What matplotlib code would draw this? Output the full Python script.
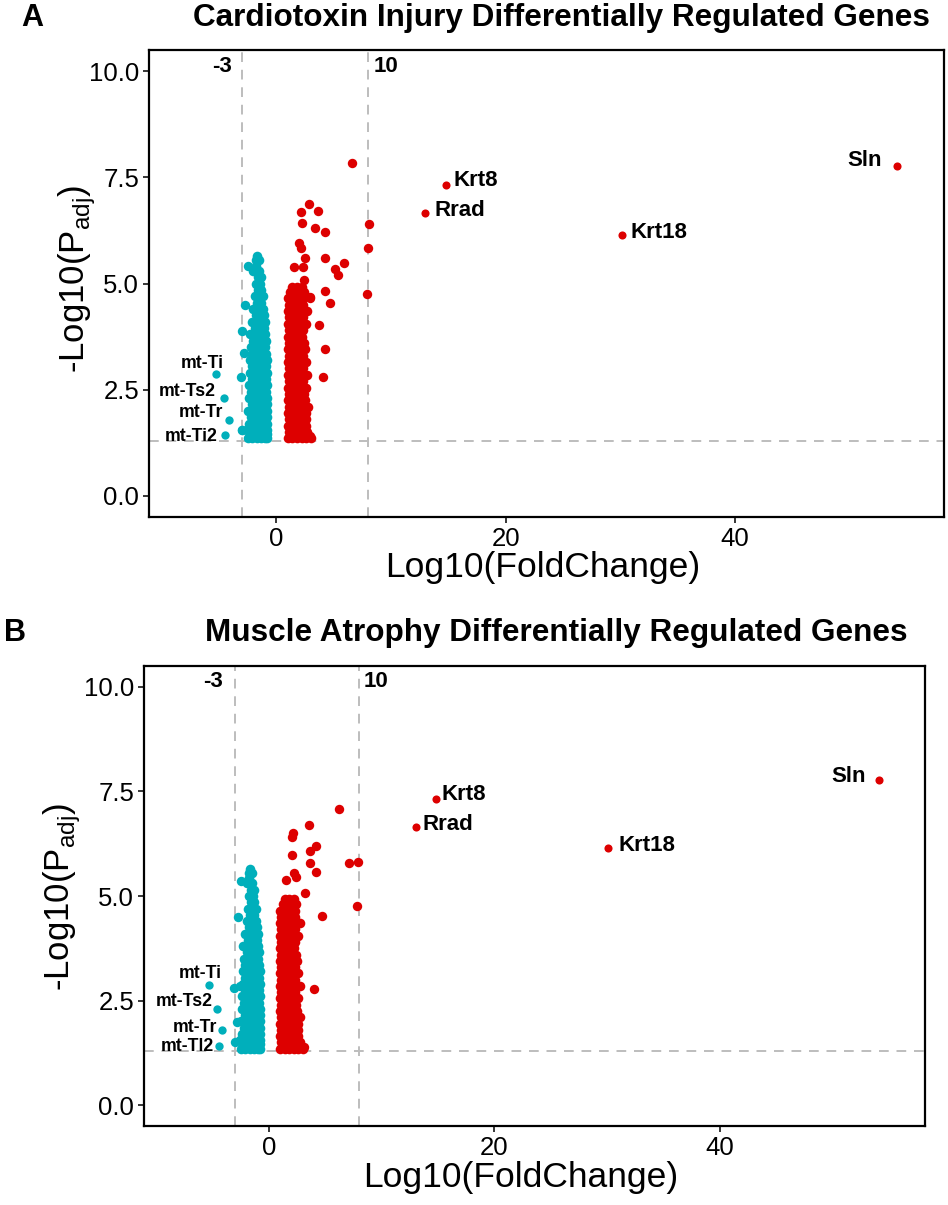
import matplotlib
matplotlib.use('Agg')
import matplotlib.pyplot as plt

plt.rcParams['font.family'] = ['Liberation Sans', 'DejaVu Sans']
plt.rcParams['mathtext.fontset'] = 'custom'
plt.rcParams['mathtext.rm'] = 'Liberation Sans'

BLUE = '#00AFBB'
RED = '#DD0000'

# ---------------- data ----------------
# dense body of down-regulated genes: one list of x values per y row
down_rows_y = [1.35, 1.45, 1.55, 1.70, 1.85, 2.00, 2.15, 2.30, 2.45, 2.60,
               2.75, 2.90, 3.05, 3.20, 3.35, 3.50, 3.65, 3.80, 3.95, 4.10,
               4.25, 4.40, 4.55, 4.70, 4.85, 5.00, 5.15, 5.30, 5.42, 5.55, 5.65]
down_rows_x = [
    [-2.5, -2.1, -1.7, -1.3, -0.95, -0.8],
    [-2.3, -1.9, -1.5, -1.1, -0.8],
    [-2.6, -2.1, -1.7, -1.3, -0.95, -0.8],
    [-2.4, -2.0, -1.6, -1.2, -0.85],
    [-2.2, -1.8, -1.4, -1.0, -0.8],
    [-2.5, -2.0, -1.6, -1.2, -0.85],
    [-2.1, -1.7, -1.3, -0.95, -0.8],
    [-2.4, -1.9, -1.5, -1.1, -0.85],
    [-2.2, -1.7, -1.3, -0.9],
    [-2.4, -2.0, -1.6, -1.2, -0.85],
    [-2.1, -1.7, -1.3, -0.9],
    [-2.3, -1.9, -1.5, -1.1, -0.85],
    [-2.1, -1.7, -1.3, -0.9],
    [-2.3, -1.9, -1.5, -1.1, -0.85],
    [-2.1, -1.7, -1.3, -0.9],
    [-2.2, -1.8, -1.4, -1.0],
    [-2.0, -1.6, -1.2, -0.9],
    [-2.3, -1.8, -1.4, -1.0],
    [-1.9, -1.5, -1.1],
    [-2.1, -1.6, -1.2, -0.95],
    [-1.8, -1.4, -1.05],
    [-2.0, -1.5, -1.15],
    [-1.7, -1.3],
    [-1.9, -1.5, -1.2],
    [-1.6, -1.3],
    [-1.8, -1.4],
    [-1.6, -1.3],
    [-2.0, -1.5],
    [-1.8],
    [-1.75, -1.5],
    [-1.7],
]

# dense body of up-regulated genes
up_rows_y = [1.35, 1.50, 1.65, 1.80, 1.95, 2.10, 2.25, 2.40, 2.55, 2.70,
             2.85, 3.00, 3.15, 3.30, 3.45, 3.60, 3.75, 3.90, 4.05, 4.20,
             4.35, 4.50, 4.65, 4.80, 4.92]
up_rows_x = [
    [1.0, 1.4, 1.8, 2.2, 2.6, 3.0],
    [1.1, 1.5, 1.9, 2.3, 2.7],
    [1.0, 1.4, 1.8, 2.2, 2.6],
    [1.1, 1.5, 1.9, 2.3, 2.6],
    [1.0, 1.4, 1.8, 2.2, 2.6],
    [1.1, 1.5, 1.9, 2.3, 2.75],
    [1.0, 1.4, 1.8, 2.2, 2.5],
    [1.1, 1.5, 1.9, 2.4],
    [1.0, 1.4, 1.8, 2.2, 2.6],
    [1.1, 1.5, 1.9, 2.3],
    [1.0, 1.4, 1.8, 2.2, 2.7],
    [1.1, 1.5, 1.9, 2.3],
    [1.0, 1.4, 1.8, 2.2, 2.6],
    [1.1, 1.5, 1.9, 2.3],
    [1.0, 1.4, 1.8, 2.2, 2.5],
    [1.1, 1.5, 1.9, 2.4],
    [1.0, 1.4, 1.8, 2.2],
    [1.1, 1.5, 1.9, 2.3],
    [1.0, 1.4, 1.8, 2.2, 2.6],
    [1.1, 1.5, 1.9, 2.3],
    [1.0, 1.4, 1.8, 2.2, 2.7],
    [1.1, 1.5, 1.9, 2.3],
    [1.0, 1.4, 1.8, 2.3],
    [1.2, 1.6, 2.0, 2.4],
    [1.4, 1.8, 2.2],
]

# scattered points outside the dense bodies, panel A
a_down_x = [-2.48, -2.76, -2.96, -2.8, -3.1, -2.96, -2.95]
a_down_y = [5.42, 4.49, 3.88, 3.37, 2.8, 1.55, 1.55]
a_up_x = [6.6, 2.82, 3.64, 2.13, 2.24, 8.08, 3.41, 4.28, 1.95, 2.13, 8.0, 2.48,
          4.28, 5.88, 1.52, 2.33, 5.15, 5.38, 2.39, 4.22, 7.91, 2.97, 4.72,
          3.70, 4.28, 4.07, 2.9, 2.9]
a_up_y = [7.84, 6.88, 6.71, 6.69, 6.43, 6.41, 6.31, 6.22, 5.96, 5.83, 5.83, 5.59,
          5.59, 5.49, 5.39, 5.39, 5.33, 5.21, 5.08, 4.83, 4.75, 4.69, 4.53,
          4.02, 3.45, 2.79, 1.40, 4.65]

# scattered points outside the dense bodies, panel B
b_down_x = [-2.5, -2.8, -3.13, -2.85, -3.0, -2.6]
b_down_y = [5.36, 4.49, 2.80, 1.98, 1.51, 2.85]
b_up_x = [6.16, 3.55, 2.13, 2.01, 4.14, 3.61, 2.01, 3.61, 7.1, 7.92, 4.14,
          2.2, 2.4, 1.48, 3.19, 7.77, 4.65, 4.0, 3.1]
b_up_y = [7.08, 6.69, 6.51, 6.40, 6.20, 6.08, 5.97, 5.79, 5.78, 5.81, 5.57,
          5.55, 5.45, 5.39, 5.07, 4.75, 4.52, 2.78, 1.38]

# labelled genes
up_gene_names = ['Sln', 'Krt18', 'Krt8', 'Rrad']
up_gene_x = [54.1, 30.1, 14.8, 13.0]
up_gene_y = [7.77, 6.14, 7.32, 6.65]
a_down_gene_names = ['mt-Ti', 'mt-Ts2', 'mt-Tr', 'mt-Ti2']
b_down_gene_names = ['mt-Ti', 'mt-Ts2', 'mt-Tr', 'mt-Tl2']
down_gene_x = [-5.3, -4.6, -4.15, -4.45]
down_gene_y = [2.88, 2.30, 1.79, 1.42]

padj_cut = 1.3
fc_lines = [-3, 8]
fc_line_labels = ['-3', '10']
yticks = [0.0, 2.5, 5.0, 7.5, 10.0]
xticks = [0, 20, 40]

titles = ['Cardiotoxin Injury Differentially Regulated Genes',
          'Muscle Atrophy Differentially Regulated Genes']
panel_letters = ['A', 'B']


def flat(rows_y, rows_x):
    xs, ys = [], []
    for yv, row in zip(rows_y, rows_x):
        for xv in row:
            xs.append(xv)
            ys.append(yv)
    return xs, ys


bulk_down_x, bulk_down_y = flat(down_rows_y, down_rows_x)
bulk_up_x, bulk_up_y = flat(up_rows_y, up_rows_x)

W, H = 948, 1205
fig = plt.figure(figsize=(W / 100, H / 100), dpi=100)


def rect(l, r, t, b):
    return [l / W, 1 - b / H, (r - l) / W, (b - t) / H]


panels = [
    dict(rect=rect(149, 944, 50, 517), down=(a_down_x, a_down_y), up=(a_up_x, a_up_y),
         dnames=a_down_gene_names,
         up_off=[(-15, 5, 'right'), (9, 3, 'left'), (7, 5, 'left'), (9, 3, 'left')],
         dn_off=[(8, 10), (-8, 7), (-6, 7), (-8, -1)],
         vl_off=[(-10, 'right'), (6, 'left')],
         title=(561, 18), letter=(32, 18), xlab=(543, 568), ylab=(77, 279)),
    dict(rect=rect(144, 925, 666, 1126), down=(b_down_x, b_down_y), up=(b_up_x, b_up_y),
         dnames=b_down_gene_names,
         up_off=[(-13, 4, 'right'), (10, 3, 'left'), (6, 4, 'left'), (7, 3, 'left')],
         dn_off=[(12, 11), (-5, 7), (-5, 3), (-5, -1)],
         vl_off=[(-12, 'right'), (4, 'left')],
         title=(556, 633), letter=(15, 633), xlab=(521, 1178), ylab=(62, 897)),
]

for i, p in enumerate(panels):
    ax = fig.add_axes(p['rect'])
    ax.set_xlim(-11.1, 58.2)
    ax.set_ylim(-0.5, 10.5)

    for xv in fc_lines:
        ax.axvline(xv, color='#BDBDBD', lw=1.4, ls=(0, (5, 4)), zorder=1)
    ax.axhline(padj_cut, color='#BDBDBD', lw=1.4, ls=(0, (5, 4)), zorder=1)

    ax.scatter(bulk_down_x, bulk_down_y, s=48, c=BLUE, linewidths=0, zorder=3)
    ax.scatter(p['down'][0], p['down'][1], s=46, c=BLUE, linewidths=0, zorder=3)
    ax.scatter(bulk_up_x, bulk_up_y, s=48, c=RED, linewidths=0, zorder=3)
    ax.scatter(p['up'][0], p['up'][1], s=46, c=RED, linewidths=0, zorder=3)
    ax.scatter(up_gene_x, up_gene_y, s=34, c=RED, linewidths=0, zorder=4)
    ax.scatter(down_gene_x, down_gene_y, s=36, c=BLUE, linewidths=0, zorder=4)

    for name, xv, yv, (dx, dy, ha) in zip(up_gene_names, up_gene_x, up_gene_y, p['up_off']):
        ax.annotate(name, (xv, yv), xytext=(dx, dy), textcoords='offset pixels',
                    ha=ha, va='center', fontsize=16, fontweight='bold', color='black')
    for name, xv, yv, (dx, dy) in zip(p['dnames'], down_gene_x, down_gene_y, p['dn_off']):
        ax.annotate(name, (xv, yv), xytext=(dx, dy), textcoords='offset pixels',
                    ha='right', va='center', fontsize=12.7, fontweight='bold', color='black')
    for xv, lab, (dx, ha) in zip(fc_lines, fc_line_labels, p['vl_off']):
        ax.annotate(lab, (xv, 10.12), xytext=(dx, 0), textcoords='offset pixels',
                    ha=ha, va='center', fontsize=16, fontweight='bold', color='black')

    ax.set_xticks(xticks)
    ax.set_yticks(yticks)
    ax.set_yticklabels([f'{v:.1f}' for v in yticks])
    ax.tick_params(direction='out', length=4, width=1.1, labelsize=18.5,
                   colors='black', pad=3)
    for sp in ax.spines.values():
        sp.set_linewidth(1.6)
        sp.set_color('black')

    fig.text(p['title'][0] / W, 1 - p['title'][1] / H, titles[i], ha='center', va='center',
             fontsize=22.7, fontweight='bold')
    fig.text(p['letter'][0] / W, 1 - p['letter'][1] / H, panel_letters[i], ha='center',
             va='center', fontsize=22, fontweight='bold')
    fig.text(p['xlab'][0] / W, 1 - p['xlab'][1] / H, 'Log10(FoldChange)', ha='center',
             va='center', fontsize=25.5)
    fig.text(p['ylab'][0] / W, 1 - p['ylab'][1] / H, r'-Log10(P$_{\mathregular{adj}}$)',
             ha='center', va='center', rotation=90, fontsize=25)

fig.savefig('out.png', dpi=100)
